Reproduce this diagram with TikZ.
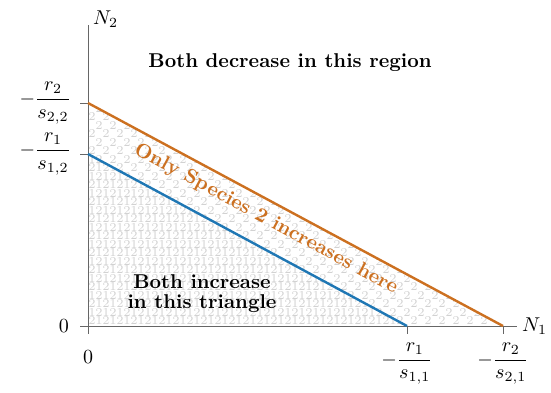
\documentclass[tikz,border=0pt]{standalone}
\usepackage{xcolor}
\usepackage{amsmath}
\usepackage{tikz}
\usetikzlibrary{positioning}
\usetikzlibrary{calc}
\definecolor{lineblue}{RGB}{31,119,180}
\definecolor{lineorange}{RGB}{204,112,32}
\tikzstyle{axis} = [draw,gray!80!black,line width=0.5pt]
\tikzstyle{tick} = [draw,gray!80!black,line width=0.5pt]
\tikzstyle{nullcline} = [draw,line width=1.2pt]
\tikzstyle{digit} = [font=\fontsize{6}{6}\selectfont,text=gray!35,inner sep=0pt]
\tikzstyle{region} = [font=\bfseries,align=center]

\begin{document}
\begin{tikzpicture}[x=0.5pt,y=0.5pt]

 \useasboundingbox (0,0) rectangle (551,392);

 %axes and intercepts
 \foreach \x/\y/\name in {88/66/O, 88/367/ytop, 517/66/xend, 88/238/b1y, 407/66/b1x, 88/289/b2y, 503/66/b2x}
        \coordinate (\name) at (\x,\y);

 %digits, species 2
 \begin{scope}
  \clip (O) -- (b2x) -- (b2y) -- cycle;
  \foreach \j in {0,...,26}
   \foreach \i in {0,...,30} {
     \pgfmathsetmacro\xx{92+14*\i+7*mod(\j,2)}
     \pgfmathsetmacro\yy{71+8.5*\j}
     \node[digit] (d2) at (\xx,\yy) {2};
   }
 \end{scope}

 %digits, species 1
 \begin{scope}
  \clip (O) -- (b1x) -- (b1y) -- cycle;
  \foreach \j in {0,...,20}
   \foreach \i in {0,...,23} {
     \pgfmathsetmacro\xx{92+14*\i+7*mod(\j+1,2)}
     \pgfmathsetmacro\yy{71+8.5*\j}
     \node[digit] (d1) at (\xx,\yy) {1};
   }
 \end{scope}

 \path[axis] (O) -- (ytop);
 \path[axis] (O) -- (xend);
 \node[right=-1pt] (n1) at (xend) {$N_1$};
 \node[above right=-5pt and -1pt] (n2) at (ytop) {$N_2$};

 %ticks
 \foreach \name in {O, b1y, b2y}
        \path[tick] (\name) -- ++(-8,0) coordinate (\name l);
 \foreach \name in {O, b1x, b2x}
        \path[tick] (\name) -- ++(0,-8) coordinate (\name b);

 \node[left=2pt] (zl) at (Ol) {$0$};
 \node[below=5pt] (zb) at (Ob) {$0$};
 \node[left=1pt] (lb1) at (b1yl) {$-\dfrac{r_1}{s_{1,2}}$};
 \node[left=1pt] (lb2) at (b2yl) {$-\dfrac{r_2}{s_{2,2}}$};
 \node[below=1pt] (lx1) at (b1xb) {$-\dfrac{r_1}{s_{1,1}}$};
 \node[below=1pt] (lx2) at (b2xb) {$-\dfrac{r_2}{s_{2,1}}$};

 %nullclines
 \path[nullcline,lineblue] (b1y) -- (b1x);
 \path[nullcline,lineorange] (b2y) -- (b2x);

 %regions
 \node[region] (dec) at (290,329) {Both decrease in this region};
 \node[region] (inc) at (202,98) {Both increase\\[-2pt]in this triangle};
 \node[region,text=lineorange,rotate=-28.3] (only) at (266,173) {Only Species 2 increases here};

\end{tikzpicture}
\end{document}
